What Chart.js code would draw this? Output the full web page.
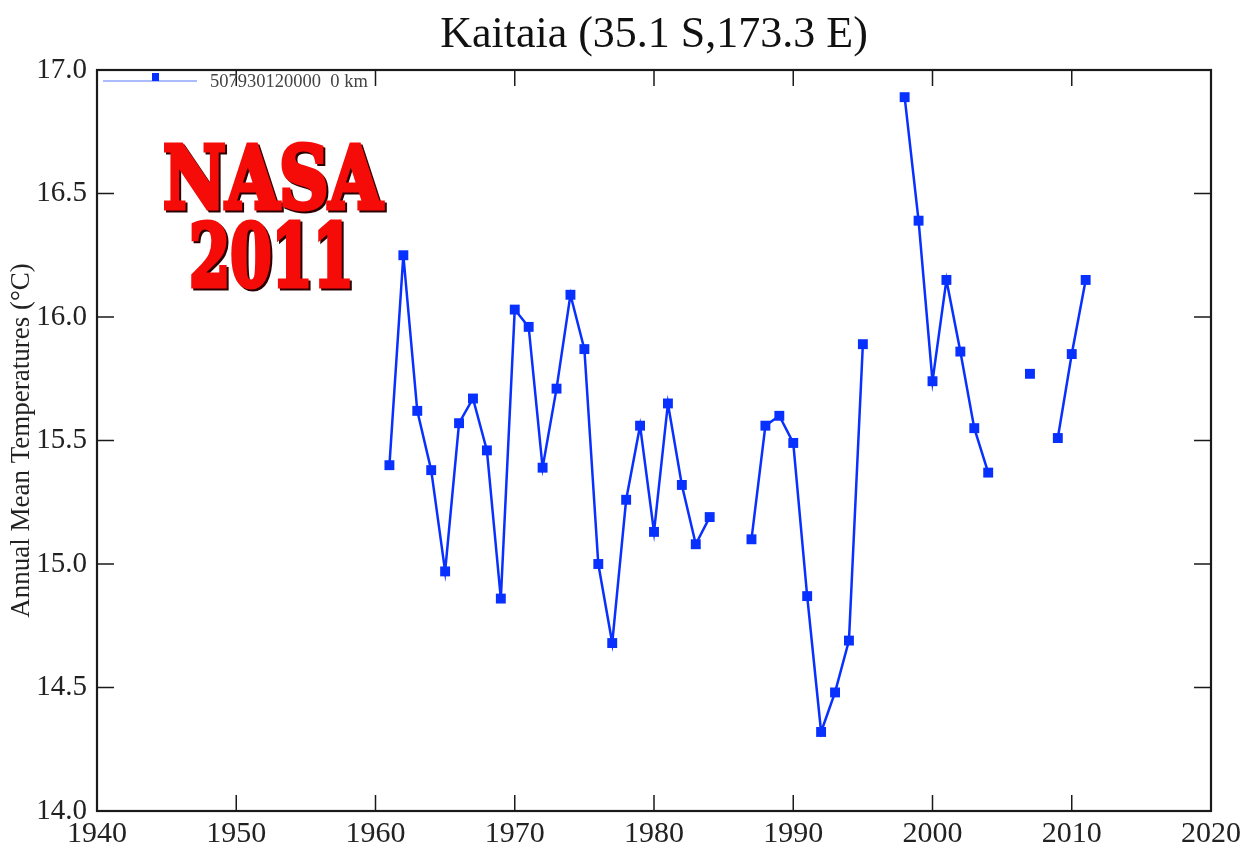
<!DOCTYPE html>
<html>
<head>
<meta charset="utf-8">
<script src="https://cdn.jsdelivr.net/npm/chart.js@4.4.0/dist/chart.umd.min.js"></script>
<style>
  html, body { margin: 0; padding: 0; background: #fff; }
  #wrap { width: 1252px; height: 849px; }
</style>
</head>
<body>
<div id="wrap"><canvas id="kaitaia-chart"></canvas></div>
<script>
var chartTitle = 'Kaitaia (35.1 S,173.3 E)';
var stationLabel = '507930120000  0 km';
var stampLines = ['NASA', '2011'];

var years = [1961, 1962, 1963, 1964, 1965, 1966, 1967, 1968, 1969, 1970,
             1971, 1972, 1973, 1974, 1975, 1976, 1977, 1978, 1979, 1980,
             1981, 1982, 1983, 1984, 1985, 1986, 1987, 1988, 1989, 1990,
             1991, 1992, 1993, 1994, 1995, 1996, 1997, 1998, 1999, 2000,
             2001, 2002, 2003, 2004, 2005, 2006, 2007, 2008, 2009, 2010, 2011];
var temps = [15.40, 16.25, 15.62, 15.38, 14.97, 15.57, 15.67, 15.46, 14.86, 16.03,
             15.96, 15.39, 15.71, 16.09, 15.87, 15.00, 14.68, 15.26, 15.56, 15.13,
             15.65, 15.32, 15.08, 15.19, null, null, 15.10, 15.56, 15.60, 15.49,
             14.87, 14.32, 14.48, 14.69, 15.89, null, null, 16.89, 16.39, 15.74,
             16.15, 15.86, 15.55, 15.37, null, null, 15.77, null, 15.51, 15.85, 16.15];
var xTicks = [1940, 1950, 1960, 1970, 1980, 1990, 2000, 2010, 2020];
var yTicks = [14.0, 14.5, 15.0, 15.5, 16.0, 16.5, 17.0];

var lineBlue = 'rgb(8, 48, 255)';
var serif = '"Liberation Serif", "Times New Roman", serif';

// frame, inward ticks, title, legend and the red stamp
var decorations = {
  id: 'decorations',
  afterDraw: function (chart) {
    var ctx = chart.ctx;
    var a = chart.chartArea;
    var xs = chart.scales.x, ys = chart.scales.y;
    ctx.save();

    ctx.strokeStyle = '#1a1a1a';
    ctx.lineWidth = 1.5;
    xTicks.forEach(function (v) {
      var px = xs.getPixelForValue(v);
      ctx.beginPath();
      ctx.moveTo(px, a.bottom); ctx.lineTo(px, a.bottom - 16);
      ctx.moveTo(px, a.top); ctx.lineTo(px, a.top + 16);
      ctx.stroke();
    });
    yTicks.forEach(function (v) {
      var py = ys.getPixelForValue(v);
      ctx.beginPath();
      ctx.moveTo(a.left, py); ctx.lineTo(a.left + 17, py);
      ctx.moveTo(a.right, py); ctx.lineTo(a.right - 17, py);
      ctx.stroke();
    });
    ctx.lineWidth = 2.2;
    ctx.strokeRect(a.left, a.top, a.right - a.left, a.bottom - a.top);

    // title
    ctx.fillStyle = '#111';
    ctx.font = '44px ' + serif;
    ctx.textAlign = 'center';
    ctx.textBaseline = 'alphabetic';
    ctx.fillText(chartTitle, (a.left + a.right) / 2, 47);

    // legend
    ctx.strokeStyle = 'rgb(90, 120, 255)';
    ctx.lineWidth = 1;
    ctx.beginPath();
    ctx.moveTo(a.left + 6, a.top + 11); ctx.lineTo(a.left + 100, a.top + 11);
    ctx.stroke();
    ctx.fillStyle = lineBlue;
    ctx.fillRect(a.left + 55, a.top + 3, 7, 8);
    ctx.fillStyle = '#444';
    ctx.font = '18.5px ' + serif;
    ctx.textAlign = 'left';
    ctx.fillText(stationLabel, a.left + 113, a.top + 17);

    // stamp
    var boxes = [
      { x: 163, w: 219, base: 208 },
      { x: 189, w: 165, base: 286 }
    ];
    ctx.font = 'bold 86px "DejaVu Serif", serif';
    ctx.lineJoin = 'miter';
    stampLines.forEach(function (txt, i) {
      var b = boxes[i];
      var k = b.w / ctx.measureText(txt).width;
      ctx.save();
      ctx.translate(b.x, b.base);
      ctx.scale(k, 1);
      ctx.lineWidth = 5;
      ctx.fillStyle = '#2a0000';
      ctx.strokeStyle = '#2a0000';
      ctx.fillText(txt, 2 / k, 2);
      ctx.strokeText(txt, 2 / k, 2);
      ctx.fillStyle = 'rgb(245, 12, 8)';
      ctx.strokeStyle = 'rgb(245, 12, 8)';
      ctx.fillText(txt, 0, 0);
      ctx.strokeText(txt, 0, 0);
      ctx.restore();
    });

    ctx.restore();
  }
};

var ctx = document.getElementById('kaitaia-chart').getContext('2d');
var myChart = new Chart(ctx, {
  type: 'line',
  data: {
    datasets: [{
      label: stationLabel,
      data: years.map(function (yr, i) { return { x: yr, y: temps[i] }; }),
      borderColor: lineBlue,
      backgroundColor: lineBlue,
      borderWidth: 2.5,
      pointStyle: 'rect',
      pointRadius: 7,
      pointBorderWidth: 0,
      pointBackgroundColor: lineBlue,
      tension: 0,
      spanGaps: false
    }]
  },
  options: {
    responsive: true,
    maintainAspectRatio: false,
    animation: false,
    layout: { padding: { top: 70, right: 41, left: 0, bottom: 0 } },
    plugins: {
      legend: { display: false },
      tooltip: { enabled: false }
    },
    scales: {
      x: {
        type: 'linear',
        min: 1940,
        max: 2020,
        afterBuildTicks: function (scale) {
          scale.ticks = xTicks.map(function (v) { return { value: v }; });
        },
        afterFit: function (scale) { scale.height = 38; },
        grid: { display: false, drawTicks: false },
        border: { display: false },
        ticks: {
          color: '#222',
          font: { family: serif, size: 30 },
          padding: 5,
          maxRotation: 0,
          autoSkip: false,
          callback: function (v) { return String(v); }
        }
      },
      y: {
        min: 14,
        max: 17,
        afterBuildTicks: function (scale) {
          scale.ticks = yTicks.map(function (v) { return { value: v }; });
        },
        afterFit: function (scale) { scale.width = 97; },
        grid: { display: false, drawTicks: false },
        border: { display: false },
        ticks: {
          color: '#222',
          font: { family: serif, size: 29 },
          padding: 10,
          autoSkip: false,
          callback: function (v) { return Number(v).toFixed(1); }
        },
        title: {
          display: true,
          text: 'Annual Mean Temperatures (°C)',
          color: '#222',
          font: { family: serif, size: 27 },
          padding: { top: 6, bottom: 0 }
        }
      }
    }
  },
  plugins: [decorations]
});
</script>
</body>
</html>
